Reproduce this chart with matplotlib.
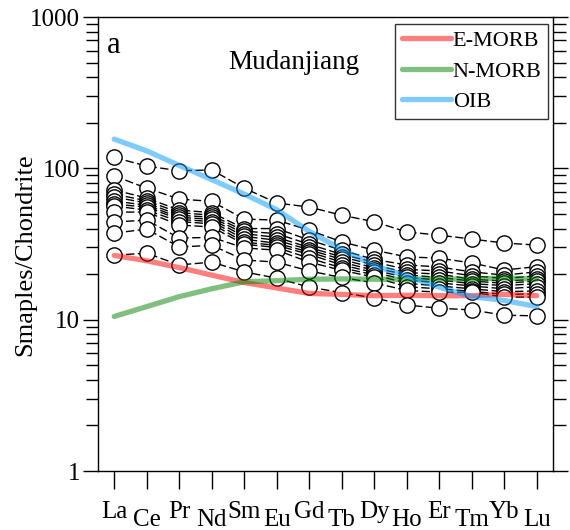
import numpy as np
import matplotlib
matplotlib.use('Agg')
from matplotlib import pyplot as plt
import matplotlib.transforms as mtransforms
from matplotlib.ticker import LogLocator, NullFormatter, FixedLocator, FixedFormatter

plt.rcParams['font.family'] = ['Liberation Serif', 'DejaVu Serif']

elements = ['La', 'Ce', 'Pr', 'Nd', 'Sm', 'Eu', 'Gd',
            'Tb', 'Dy', 'Ho', 'Er', 'Tm', 'Yb', 'Lu']

# chondrite-normalised REE of the Mudanjiang samples
s1 = [118, 103.5, 96.4, 97.6, 74, 59, 55.5, 49, 44.4, 38, 36.2, 34.1, 32.1, 31.1]
s2 = [89, 74, 62.7, 60.5, 46.2, 45.5, 39, 32.7, 28.8, 26, 25.5, 23.7, 21.3, 22.4]
s3 = [72, 63.6, 53, 51, 40, 40, 33.6, 28.8, 25, 23, 22.3, 20.7, 19.7, 20.7]
s4 = [67.6, 61, 51, 49, 38.5, 37, 31.5, 27, 24, 21.5, 21, 19.5, 18.7, 19.5]
s5 = [64.6, 59, 49, 47.5, 37, 35, 30, 26, 23, 20.5, 20, 18.5, 18, 18.5]
s6 = [60.8, 57, 47.5, 46, 35.5, 33.5, 29, 25, 22, 19.8, 19, 18, 17.4, 18]
s7 = [58, 55.5, 46, 44.5, 34, 32, 28, 24, 21.2, 19, 18.3, 17.3, 16.8, 17.3]
s8 = [56.3, 53, 44.5, 43, 32.5, 31, 27, 23, 20.5, 18.3, 17.5, 16.7, 16, 16.5]
s9 = [51.4, 51.4, 42.2, 41, 31.5, 30, 25.5, 22, 19.8, 17.4, 16.7, 16, 15.3, 15.5]
s10 = [44.2, 45.5, 34.6, 35, 29.8, 28.8, 24, 21.2, 19.1, 16.5, 16, 15.4, 14.7, 14.8]
s11 = [37.3, 39.7, 30.2, 31, 24.8, 24, 21, 19, 17.5, 15.6, 15.2, 15.2, 14.1, 14.1]
s12 = [26.7, 27.5, 23, 24, 20.7, 18.8, 16.4, 15.1, 13.9, 12.5, 11.9, 11.6, 10.7, 10.6]
samples = [s1, s2, s3, s4, s5, s6, s7, s8, s9, s10, s11, s12]

# reference basalt patterns
emorb = [26.6, 24.5, 22.1, 19.7, 17.6, 16.2, 14.9, 14.7, 14.4, 14.5, 14.4, 14.4, 14.7, 14.4]
nmorb = [10.5, 12.2, 14.2, 16.0, 17.8, 18.1, 18.5, 18.6, 18.5, 18.5, 18.6, 18.5, 18.9, 18.5]
oib = [156, 130.5, 104.5, 84.2, 67.6, 53.3, 38.3, 29.1, 22.8, 19.4, 16.4, 14.2, 13.4, 12.2]

x = np.arange(1, len(elements) + 1)

fig = plt.figure(figsize=(5.7, 5.3), dpi=100)
ax = fig.add_axes([0.1719, 0.1113, 0.7982, 0.8566])

for s in samples:
    ax.plot(x, s, color='black', lw=1, ls=(0, (6, 2.5)),
            marker='o', ms=11, mfc='white', mec='black', mew=1, zorder=2)

ax.plot(x, emorb, color='red', alpha=0.5, lw=3.8, solid_capstyle='round',
        label='E-MORB', zorder=3)
ax.plot(x, nmorb, color='green', alpha=0.5, lw=3.8, solid_capstyle='round',
        label='N-MORB', zorder=3)
ax.plot(x, oib, color='#0099ff', alpha=0.5, lw=3.8, solid_capstyle='round',
        label='OIB', zorder=3)

ax.set_yscale('log')
ax.set_ylim(1, 1000)
ax.set_xlim(0.5, 14.5)

ax.yaxis.set_major_locator(FixedLocator([1, 10, 100, 1000]))
ax.yaxis.set_major_formatter(FixedFormatter(['1', '10', '100', '1000']))
ax.yaxis.set_minor_locator(LogLocator(base=10, subs=np.arange(2, 10)))
ax.yaxis.set_minor_formatter(NullFormatter())
ax.tick_params(axis='y', which='both', direction='out', left=True, right=True,
               labelsize=18, pad=2, width=1)
ax.tick_params(axis='y', which='major', length=11)
ax.tick_params(axis='y', which='minor', length=9)

ax.set_xticks(x)
ax.set_xticklabels([])
ax.tick_params(axis='x', which='both', direction='out', length=13, width=1,
               top=False)

# staggered element names
trans = mtransforms.blended_transform_factory(ax.transData, ax.transAxes)
for i, el in enumerate(elements):
    dy = -0.066 if i % 2 == 0 else -0.084
    ax.text(x[i], dy, el, transform=trans, ha='center', va='top', fontsize=18)

for sp in ax.spines.values():
    sp.set_linewidth(1)

ax.set_ylabel('Smaples/Chondrite', fontsize=19)
ax.yaxis.set_label_coords(-0.136, 0.476)
ax.text(0.035, 0.938, 'a', transform=ax.transAxes, fontsize=22,
        ha='center', va='center')
ax.text(0.43, 0.899, 'Mudanjiang', transform=ax.transAxes, fontsize=19.5,
        ha='center', va='center')

leg = ax.legend(loc='upper right', bbox_to_anchor=(0.99, 0.985), fontsize=16,
                frameon=True, fancybox=False, edgecolor='black',
                handlelength=2.2, handletextpad=0.1, labelspacing=0.45,
                borderpad=0.3, borderaxespad=0)
leg.get_frame().set_linewidth(1)
for line in leg.get_lines():
    line.set_alpha(0.5)

fig.savefig('out.png', dpi=100)
